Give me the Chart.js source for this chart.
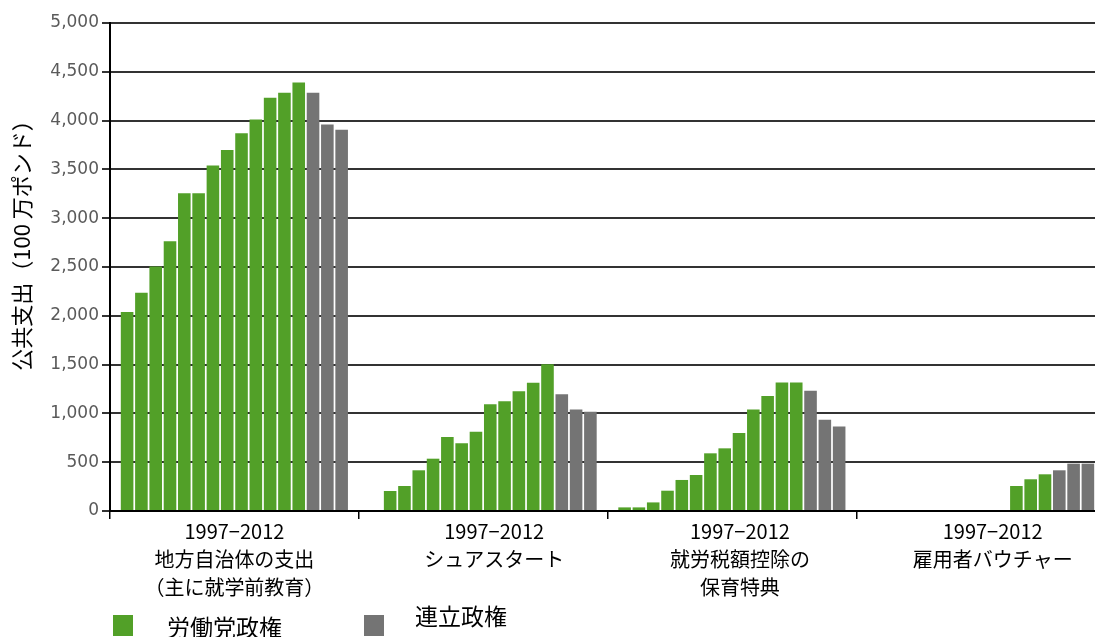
<!DOCTYPE html>
<html>
<head>
<meta charset="utf-8">
<script src="https://cdn.jsdelivr.net/npm/chart.js@4.4.1/dist/chart.umd.min.js"></script>
<style>
  html, body { margin: 0; padding: 0; background: #fff; overflow: hidden; }
  #wrap { position: relative; width: 1095px; height: 637px; overflow: hidden; background: #fff; }
  #c { position: absolute; left: 0; top: 0; }
  .lg-box { position: absolute; width: 20px; height: 21px; }
  .lg-txt { position: absolute; font-family: "Noto Sans CJK JP", sans-serif; font-size: 23px; line-height: 23px; color: #000; white-space: nowrap; }
</style>
</head>
<body>
<div id="wrap">
  <canvas id="c" width="1105" height="637"></canvas>
  <div class="lg-box" style="left:113px; top:615px; background:#52A028;"></div>
  <div class="lg-txt" id="lgLabour" style="left:167px; top:615px;"></div>
  <div class="lg-box" style="left:364px; top:615px; background:#747474;"></div>
  <div class="lg-txt" id="lgCoalition" style="left:415px; top:604px;"></div>
</div>
<script>
// ---- data ----
const years = ['1997','1998','1999','2000','2001','2002','2003','2004','2005','2006','2007','2008','2009','2010','2011','2012'];
const government = ['labour','labour','labour','labour','labour','labour','labour','labour','labour','labour','labour','labour','labour','coalition','coalition','coalition'];
const categoryLabels = [
  ['1997−2012', '地方自治体の支出', '（主に就学前教育）'],
  ['1997−2012', 'シュアスタート'],
  ['1997−2012', '就労税額控除の', '保育特典'],
  ['1997−2012', '雇用者バウチャー']
];
const localAuthority = [2040, 2235, 2505, 2765, 3255, 3255, 3540, 3700, 3870, 4010, 4235, 4285, 4390, 4285, 3960, 3905];
const sureStart      = [null, 205, 256, 417, 536, 759, 694, 813, 1094, 1125, 1228, 1313, 1504, 1197, 1039, 1018];
const childcareTax   = [37, 37, 88, 208, 318, 369, 591, 642, 800, 1039, 1179, 1316, 1316, 1231, 936, 865];
const employerVouch  = [null, null, null, null, null, null, null, null, null, null, 256, 325, 376, 417, 485, 485];
const yTicks = [0, 500, 1000, 1500, 2000, 2500, 3000, 3500, 4000, 4500, 5000];
const legendLabels = { labour: '労働党政権', coalition: '連立政権' };
const yTitle = '公共支出（100 万ポンド）';

const colors = { labour: '#52A028', coalition: '#747474' };

document.getElementById('lgLabour').textContent = legendLabels.labour;
document.getElementById('lgCoalition').textContent = legendLabels.coalition;

const datasets = years.map((y, i) => ({
  label: y,
  data: [localAuthority[i], sureStart[i], childcareTax[i], employerVouch[i]],
  backgroundColor: colors[government[i]],
  borderWidth: 0,
  categoryPercentage: 0.92,
  barPercentage: 0.88
}));

// style: horizontal nudge of each category caption (as in the original layout)
const captionShift = [0, 11, 8, 12];

const textPlugin = {
  id: 'texts',
  afterDraw(chart) {
    const ctx = chart.ctx;
    // y-axis title
    ctx.save();
    ctx.translate(22, 240);
    ctx.rotate(-Math.PI / 2);
    ctx.font = '22px "Noto Sans CJK JP"';
    ctx.fillStyle = '#000';
    ctx.textAlign = 'center';
    ctx.textBaseline = 'middle';
    ctx.fillText(yTitle, 0, 0);
    ctx.restore();
    // category captions
    const xs = chart.scales.x;
    ctx.save();
    ctx.font = '20px "Noto Sans CJK JP"';
    ctx.fillStyle = '#000';
    ctx.textAlign = 'center';
    ctx.textBaseline = 'middle';
    const y0 = chart.chartArea.bottom + 20;
    categoryLabels.forEach((lines, i) => {
      const x = xs.getPixelForTick(i) + captionShift[i];
      lines.forEach((t, k) => ctx.fillText(t, x, y0 + k * 28));
    });
    ctx.restore();
  }
};

new Chart(document.getElementById('c'), {
  type: 'bar',
  data: { labels: categoryLabels, datasets },
  options: {
    responsive: false,
    animation: false,
    layout: { padding: { top: 23, right: 0, bottom: 0, left: 0 } },
    plugins: { legend: { display: false }, tooltip: { enabled: false } },
    scales: {
      x: {
        type: 'category',
        offset: true,
        grid: { offset: true, drawOnChartArea: false, drawTicks: true, tickLength: 8, color: '#000', lineWidth: 1.5 },
        border: { display: true, color: '#000', width: 2 },
        ticks: { display: false },
        afterFit(s) { s.height = 126; }
      },
      y: {
        min: 0, max: 5000,
        afterBuildTicks(s) { s.ticks = yTicks.map(v => ({ value: v })); },
        grid: { color: '#333', lineWidth: 2, tickLength: 8, drawTicks: true },
        border: { display: true, color: '#000', width: 2 },
        ticks: {
          padding: 3,
          color: '#5a5a5a',
          font: { family: '"DejaVu Sans"', size: 17 },
          callback: v => Number(v).toLocaleString('en-US')
        },
        afterFit(s) { s.width = 110; }
      }
    }
  },
  plugins: [textPlugin]
});
</script>
</body>
</html>
